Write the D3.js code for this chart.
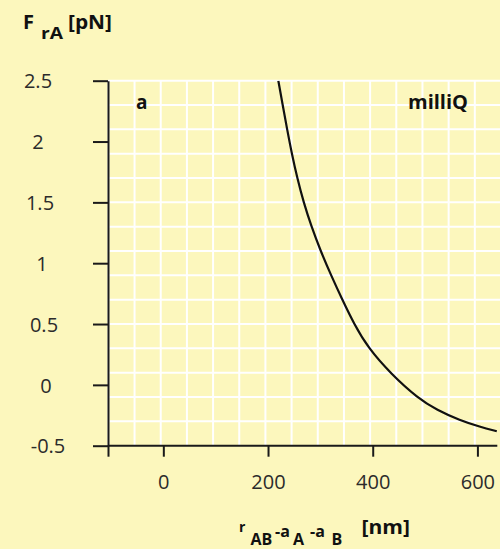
<!DOCTYPE html>
<html><head><meta charset="utf-8">
<script src="https://cdn.jsdelivr.net/npm/d3@7"></script>
<style>
html,body{margin:0;padding:0;background:#fcf7bd;}
svg{display:block;}
text{font-family:"Open Sans",sans-serif;}
</style></head>
<body>
<script>
// Curve data: distance r_AB - a_A - a_B [nm] and force F_rA [pN]
const distNm = [219.7, 228.0, 236.5, 245.5, 255.8, 268.0, 283.0, 300.5, 320.5, 342.0, 364.5, 391.0, 435.0, 487.1, 522.3, 566.8, 605.0, 637.0];
const forcePn = [2.5, 2.3, 2.1, 1.9, 1.7, 1.5, 1.3, 1.1, 0.9, 0.7, 0.5, 0.305, 0.09, -0.112, -0.205, -0.292, -0.345, -0.381];
const yTicks = [-0.5, 0, 0.5, 1, 1.5, 2, 2.5];
const xTicks = [0, 200, 400, 600];
const xGrid = [-100, -50, 0, 50, 100, 150, 200, 250, 300, 350, 400, 450, 500, 550, 600];
const yGrid = [2.5, 2.3, 2.1, 1.9, 1.7, 1.5, 1.3, 1.1, 0.9, 0.7, 0.5, 0.3, 0.1, -0.1, -0.3];

const W = 500, H = 549;
const svg = d3.select("body").append("svg").attr("width", W).attr("height", H);
svg.append("rect").attr("width", W).attr("height", H).attr("fill", "#fcf7bd");

const x = d3.scaleLinear().domain([-105.7, 638]).range([108, 497.3]);
const y = d3.scaleLinear().domain([-0.5, 2.5]).range([445.7, 80.7]);

// grid
const grid = svg.append("g").attr("stroke", "#ffffff").attr("stroke-width", 2);
grid.selectAll("line.v").data(xGrid).join("line").attr("class", "v")
  .attr("x1", d => x(d) - 2.6).attr("x2", d => x(d) - 2.6)
  .attr("y1", y(2.5)).attr("y2", y(-0.5));
grid.selectAll("line.h").data(yGrid).join("line").attr("class", "h")
  .attr("x1", x.range()[0]).attr("x2", W)
  .attr("y1", d => y(d)).attr("y2", d => y(d));

// curve
svg.append("clipPath").attr("id", "clip").append("rect")
  .attr("x", 108).attr("y", y(2.5)).attr("width", W - 108).attr("height", y(-0.5) - y(2.5));
const line = d3.line().x((d, i) => x(distNm[i])).y(d => y(d)).curve(d3.curveBasis);
svg.append("path").datum(forcePn).attr("d", line).attr("fill", "none")
  .attr("stroke", "#111").attr("stroke-width", 2.2).attr("clip-path", "url(#clip)");

// axes
const yAxis = svg.append("g").attr("transform", `translate(${x.range()[0]},0)`)
  .call(d3.axisLeft(y).tickValues(yTicks).tickSize(15).tickSizeOuter(0).tickFormat(d => String(d)));
yAxis.selectAll("path,line").attr("stroke", "#1a1a1a").attr("stroke-width", 2);
yAxis.selectAll("text").attr("text-anchor", "middle")
  .attr("x", d => 38 + Math.max(0, 2 - d) * 4 - 108)
  .attr("dy", "0.36em")
  .attr("font-size", 20).attr("fill", "#2b2b2b").attr("font-family", "Open Sans, sans-serif");

const xAxis = svg.append("g").attr("transform", `translate(0,${y.range()[0]})`)
  .call(d3.axisBottom(x).tickValues([x.domain()[0]].concat(xTicks)).tickSize(11).tickSizeOuter(0)
    .tickFormat(d => xTicks.includes(d) ? String(d) : ""));
xAxis.selectAll("path,line").attr("stroke", "#1a1a1a").attr("stroke-width", 2);
xAxis.select("path.domain").attr("d", `M${x.range()[0]},0H${x.range()[1]}`);
xAxis.selectAll("text").attr("y", 43).attr("dy", 0)
  .attr("font-size", 20).attr("fill", "#2b2b2b").attr("font-family", "Open Sans, sans-serif");

// labels in plot
svg.append("text").attr("x", 136).attr("y", 109).attr("font-size", 19).attr("font-weight", 700)
  .attr("fill", "#111").text("a");
svg.append("text").attr("x", 408).attr("y", 108.5).attr("font-size", 20).attr("font-weight", 700)
  .attr("fill", "#111").text("milliQ");

// y title
const yt = svg.append("text").attr("font-weight", 700).attr("fill", "#111");
yt.append("tspan").attr("x", 23).attr("y", 28.5).attr("font-size", 20).text("F");
yt.append("tspan").attr("x", 41).attr("y", 39.3).attr("font-size", 16)
  .attr("textLength", 22).attr("lengthAdjust", "spacingAndGlyphs").text("rA");
yt.append("tspan").attr("x", 68).attr("y", 29).attr("font-size", 20)
  .attr("textLength", 44).attr("lengthAdjust", "spacingAndGlyphs").text("[pN]");

// x title
const xt = svg.append("text").attr("font-weight", 700).attr("fill", "#111");
xt.append("tspan").attr("x", 239).attr("y", 532.3).attr("font-size", 14).text("r");
xt.append("tspan").attr("x", 250.5).attr("y", 544.5).attr("font-size", 16).text("AB");
xt.append("tspan").attr("x", 275).attr("y", 536.7).attr("font-size", 16).text("-a");
xt.append("tspan").attr("x", 293).attr("y", 544.5).attr("font-size", 16).text("A");
xt.append("tspan").attr("x", 310).attr("y", 536.7).attr("font-size", 16).text("-a");
xt.append("tspan").attr("x", 331.5).attr("y", 544.5).attr("font-size", 16).text("B");
xt.append("tspan").attr("x", 361.5).attr("y", 534).attr("font-size", 20)
  .attr("textLength", 48.5).attr("lengthAdjust", "spacingAndGlyphs").text("[nm]");
</script>
</body></html>
